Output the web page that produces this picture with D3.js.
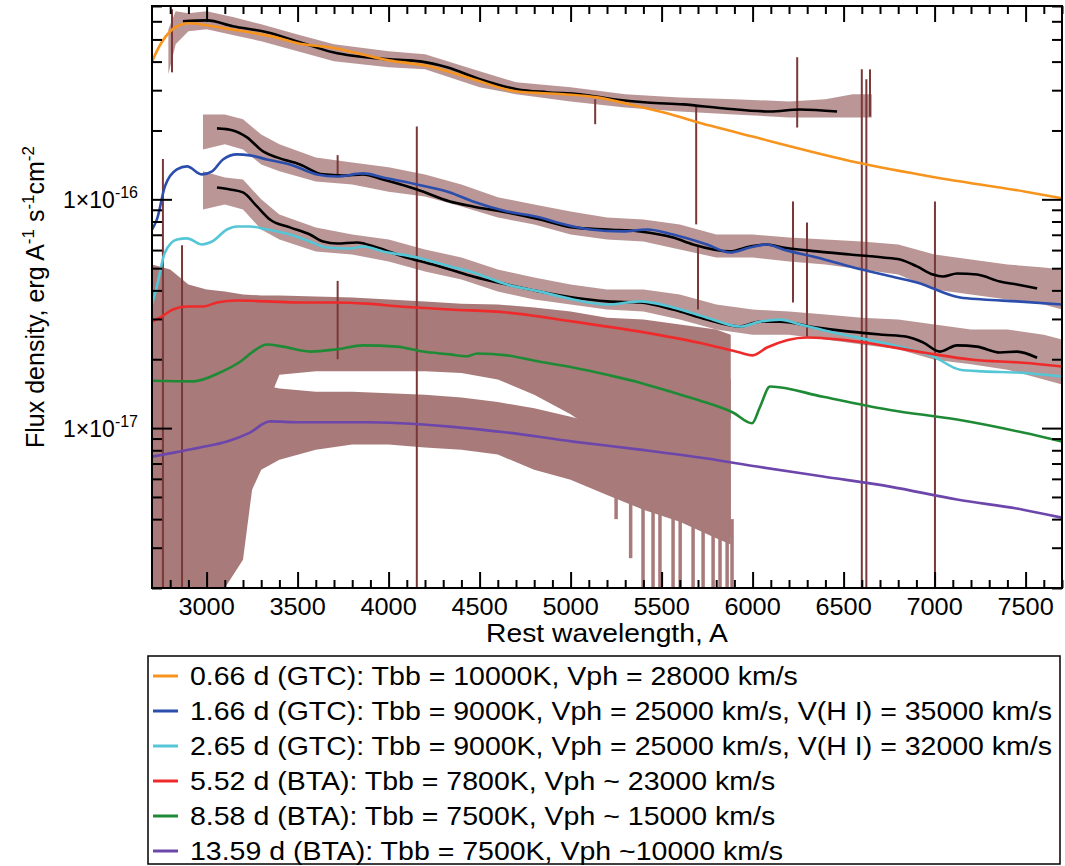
<!DOCTYPE html>
<html>
<head>
<meta charset="utf-8">
<script src="https://cdn.jsdelivr.net/npm/d3@7"></script>
<style>
  body { margin: 0; background: #fff; }
  svg { font-family: "Liberation Sans", Arial, sans-serif; }
</style>
</head>
<body>
<div id="chart"></div>
<script>
// flux values are in units of 1e-17 erg A^-1 s^-1 cm^-2, wavelength in A

// model spectra [wavelength, flux]
const model066 = [[2700,40.1],[2750,48.1],[2800,54.3],[2850,57.7],[2900,58.8],[3000,57.7],[3100,55.9],[3200,54.3],[3300,52.6],[3400,50.6],[3500,48.1],[3675,46.2],[4000,40.5],[4227,38.1],[4464,33.5],[4705,29.6],[4958,28.8],[5145,27.9],[5326,26.0],[5508,24.0],[5766,21.0],[6000,18.8],[6574,14.5],[7000,12.5],[7500,10.8],[7700,10.1]];
const model166 = [[2700,7.38],[2727,8.17],[2771,11.39],[2837,13.51],[2892,13.93],[2975,12.85],[3030,13.25],[3090,14.94],[3167,15.72],[3238,15.56],[3332,14.94],[3458,14.21],[3607,12.85],[3716,12.59],[3859,12.98],[3969,12.47],[4156,11.62],[4337,10.72],[4464,9.79],[4651,8.85],[4832,8.33],[4925,7.92],[5107,7.38],[5288,7.24],[5420,7.38],[5563,7.02],[5749,6.35],[5876,5.86],[5986,6.16],[6079,6.35],[6167,6.04],[6354,5.57],[6535,5.09],[6716,4.69],[6903,4.33],[7140,3.72],[7266,3.65],[7453,3.58],[7700,3.47]];
const model265 = [[2700,3.47],[2727,4.16],[2771,5.86],[2837,6.68],[2892,6.75],[2975,6.35],[3030,6.54],[3112,7.38],[3167,7.61],[3238,7.61],[3332,7.38],[3458,7.02],[3568,6.54],[3662,6.16],[3788,6.10],[3859,6.22],[3969,5.92],[4156,5.57],[4337,5.09],[4464,4.79],[4651,4.24],[4832,3.95],[5013,3.65],[5200,3.47],[5381,3.58],[5563,3.37],[5749,3.04],[5930,2.78],[6041,2.92],[6151,2.98],[6261,2.84],[6442,2.62],[6629,2.44],[6810,2.27],[6991,2.06],[7140,1.80],[7266,1.77],[7453,1.75],[7700,1.68]];
const model552 = [[2700,2.92],[2744,3.04],[2815,3.30],[2892,3.40],[2980,3.40],[3057,3.54],[3167,3.61],[3332,3.58],[3513,3.54],[3695,3.54],[3881,3.50],[4063,3.40],[4337,3.30],[4651,3.20],[5013,2.92],[5381,2.64],[5749,2.32],[5930,2.14],[6000,2.08],[6079,2.25],[6299,2.49],[6574,2.39],[6936,2.14],[7211,1.99],[7486,1.93],[7700,1.86]];
const model858 = [[2700,1.61],[2925,1.60],[3074,1.75],[3184,1.95],[3255,2.16],[3332,2.32],[3420,2.27],[3568,2.16],[3716,2.21],[3859,2.30],[4046,2.27],[4189,2.16],[4337,2.10],[4431,2.06],[4486,2.12],[4651,2.08],[4832,1.95],[5013,1.84],[5200,1.71],[5381,1.58],[5563,1.43],[5749,1.29],[5892,1.17],[5997,1.05],[6041,1.24],[6096,1.52],[6387,1.37],[6755,1.20],[7123,1.09],[7486,0.956],[7700,0.873]];
const model1359 = [[2700,0.750],[2964,0.822],[3112,0.873],[3238,0.956],[3348,1.07],[3513,1.06],[3695,1.06],[3881,1.06],[4063,1.05],[4337,1.015],[4651,0.956],[5013,0.873],[5381,0.805],[5749,0.736],[6024,0.679],[6387,0.614],[6755,0.555],[7123,0.487],[7486,0.440],[7700,0.406]];

// smoothed observed spectra (black)
const smooth066 = [[2870,60.0],[3002,60.6],[3145,57.1],[3332,53.7],[3513,48.6],[3695,43.9],[4008,40.9],[4173,40.1],[4321,37.8],[4502,33.5],[4705,30.3],[4870,29.4],[5052,28.8],[5233,27.4],[5420,26.5],[5618,26.0],[5837,25.0],[6096,24.2],[6260,24.7],[6464,24.2]];
const smooth166 = [[3057,20.42],[3145,20.01],[3222,18.66],[3310,16.20],[3387,15.25],[3513,14.21],[3640,12.85],[3749,12.72],[3859,12.85],[3969,12.22],[4156,11.05],[4337,9.79],[4464,9.31],[4651,8.76],[4832,8.17],[5013,7.54],[5200,7.38],[5381,7.24],[5563,6.81],[5673,6.35],[5876,5.92],[5986,6.22],[6079,6.35],[6167,6.16],[6354,5.92],[6535,5.74],[6716,5.57],[6810,5.46],[6903,5.09],[6991,4.69],[7046,4.60],[7123,4.74],[7233,4.69],[7359,4.37],[7453,4.24],[7563,4.08]];
const smooth265 = [[3057,11.27],[3129,11.05],[3200,10.72],[3277,9.31],[3348,8.17],[3458,7.54],[3568,7.02],[3640,6.54],[3716,6.41],[3826,6.48],[3936,6.16],[4079,5.63],[4244,5.19],[4337,4.94],[4464,4.60],[4651,4.24],[4832,3.95],[5013,3.72],[5200,3.58],[5381,3.54],[5563,3.30],[5749,2.98],[5930,2.78],[6041,2.92],[6151,2.92],[6354,2.75],[6535,2.64],[6716,2.56],[6848,2.51],[6936,2.37],[7030,2.16],[7123,2.30],[7233,2.27],[7359,2.14],[7453,2.16],[7563,2.03]];

// raw observed spectra as noise envelopes [wavelength, low, high]
const obs066 = [[2790,35.2,55.4],[2830,47.6,66.4],[2900,54.3,65.1],[3000,55.4,66.4],[3150,52.1,62.5],[3300,49.1,58.2],[3500,44.4,52.6],[3700,40.1,47.6],[4000,37.8,44.4],[4200,37.0,43.1],[4500,30.9,36.3],[4700,28.8,32.5],[5000,26.8,30.9],[5300,25.2,28.8],[5600,24.2,27.9],[5900,23.5,27.4],[6200,22.8,26.8],[6400,22.8,27.4],[6550,22.8,28.8],[6655,22.8,28.8]];
const obs166 = [[2980,16.5,23.5],[3100,17.4,23.5],[3200,16.5,22.4],[3300,14.2,19.2],[3400,13.25,17.4],[3600,11.97,15.25],[3800,11.6,14.5],[4000,10.8,13.8],[4200,10.3,12.85],[4400,9.31,11.6],[4600,8.33,10.2],[4800,7.77,9.5],[5000,7.02,8.85],[5200,6.68,8.33],[5400,6.54,8.17],[5600,6.04,7.77],[5800,5.57,7.02],[6000,5.57,7.02],[6200,5.35,6.81],[6400,5.19,6.68],[6600,4.94,6.54],[6800,4.69,6.35],[7000,4.04,5.74],[7200,3.84,5.46],[7400,3.65,5.19],[7600,3.47,5.04],[7700,3.30,4.94]];
const obs265 = [[2980,9.03,13.25],[3100,9.5,12.47],[3200,9.03,12.2],[3300,7.38,10.0],[3400,6.68,8.59],[3600,5.92,7.54],[3800,5.74,7.02],[4000,5.35,6.68],[4200,4.84,6.04],[4400,4.46,5.57],[4600,3.95,4.94],[4800,3.65,4.55],[5000,3.47,4.24],[5200,3.30,4.04],[5400,3.23,4.04],[5600,2.98,3.84],[5800,2.70,3.47],[6000,2.56,3.30],[6200,2.56,3.23],[6400,2.44,3.14],[6600,2.32,3.04],[6800,2.21,2.98],[7000,1.99,2.84],[7200,1.90,2.70],[7400,1.80,2.70],[7600,1.63,2.56],[7700,1.55,2.44]];
const obs552 = [[2700,0.2,5.19],[2800,0.2,4.94],[2900,0.2,4.24],[3000,0.2,4.04],[3100,0.595,3.95],[3200,1.99,3.84],[3300,2.98,3.80],[3400,3.07,3.80],[3600,3.10,3.76],[3800,3.10,3.72],[4000,3.07,3.65],[4200,3.00,3.58],[4400,2.95,3.50],[4600,2.85,3.47],[4800,2.70,3.37],[5000,2.50,3.23],[5200,2.28,3.04],[5400,1.99,2.98],[5600,1.63,2.84],[5800,1.33,2.70],[5880,1.09,2.56]];
const obs858 = [[3100,0.2,3.30],[3200,0.266,3.10],[3300,1.09,3.05],[3400,1.71,3.10],[3600,1.77,3.15],[3800,1.77,3.15],[4000,1.77,3.10],[4200,1.77,3.05],[4400,1.74,3.00],[4600,1.63,2.90],[4800,1.40,2.75],[5000,1.15,2.55],[5200,0.891,2.30],[5400,0.658,2.10],[5600,0.487,1.99],[5800,0.36,1.90],[5880,0.33,1.63]];
const obs1359 = [[2700,0.2,3.65],[3000,0.2,2.70],[3100,0.2,2.21],[3200,0.44,1.80],[3300,0.658,1.55],[3400,0.728,1.49],[3600,0.805,1.44],[3800,0.847,1.44],[4000,0.847,1.42],[4200,0.822,1.40],[4400,0.805,1.36],[4600,0.766,1.30],[4800,0.658,1.22],[5000,0.595,1.12],[5200,0.51,1.02],[5400,0.44,0.93],[5600,0.39,0.85],[5800,0.33,0.78],[5880,0.31,0.70]];

// deep absorption troughs of the BTA spectra [wavelength, high, low]
const troughs = [[5250,0.62,0.40],[5330,0.60,0.27],[5398,0.55,0.2],[5453,0.55,0.2],[5491,0.52,0.2],[5563,0.50,0.2],[5602,0.50,0.2],[5673,0.46,0.2],[5728,0.45,0.2],[5783,0.44,0.2],[5821,0.42,0.2],[5860,0.40,0.2],[5887,0.40,0.2]];

// single-pixel spikes and dips [wavelength, high, low]
const spikes = [[2760,15.0,0.2],[2810,67.7,35.9],[2865,6.3,0.2],[3720,15.6,12.7],[3720,4.4,2.0],[4155,20.8,0.2],[5135,27.4,21.3],[5690,25.4,7.77],[5700,6.2,3.3],[6222,9.79,3.54],[6245,41.8,20.6],[6299,7.92,2.51],[6600,37.0,0.2],[6625,33.5,0.2],[6645,37.0,23.0],[7002,9.79,0.2]];

const xMajor = [3000,3500,4000,4500,5000,5500,6000,6500,7000,7500];
const xMinor = d3.range(2800, 7701, 100).filter(v => v % 500 !== 0);
const yMajor = [1, 10];
const yMinor = [0.2,0.3,0.4,0.5,0.6,0.7,0.8,0.9,2,3,4,5,6,7,8,9,20,30,40,50,60,70];
const yLabels = [[1, "-17"], [10, "-16"]];

const legendLabels = [
  "0.66 d (GTC): Tbb = 10000K, Vph = 28000 km/s",
  "1.66 d (GTC): Tbb = 9000K, Vph = 25000 km/s, V(H I) = 35000 km/s",
  "2.65 d (GTC): Tbb = 9000K, Vph = 25000 km/s, V(H I) = 32000 km/s",
  "5.52 d (BTA): Tbb = 7800K, Vph ~ 23000 km/s",
  "8.58 d (BTA): Tbb = 7500K, Vph ~ 15000 km/s",
  "13.59 d (BTA): Tbb = 7500K, Vph ~10000 km/s"
];
const legendColors = ["#f7941d", "#2b4ead", "#55c6d6", "#ee2a2a", "#1f8a35", "#6c46ab"];

const svgWidth = 1065, svgHeight = 866;
const plot = { left: 152, right: 1062, top: 6, bottom: 588 };
const brown = "#8a4c4c";

const svg = d3.select("#chart")
  .append("svg")
  .attr("width", svgWidth)
  .attr("height", svgHeight);

// the source figure is slightly stretched sideways, so widen text a bit
function widen(sel, k) {
  sel.each(function () {
    const w = this.getComputedTextLength();
    d3.select(this).attr("textLength", w * k).attr("lengthAdjust", "spacingAndGlyphs");
  });
}

// scales
const x = d3.scaleLinear().domain([2700, 7700]).range([plot.left, plot.right]);
const y = d3.scaleLog().domain([0.2, 70]).range([plot.bottom, plot.top]);

svg.append("clipPath").attr("id", "clip")
  .append("rect")
  .attr("x", plot.left).attr("y", plot.top)
  .attr("width", plot.right - plot.left).attr("height", plot.bottom - plot.top);

const g = svg.append("g").attr("clip-path", "url(#clip)");

// noisy observed spectra
const band = d3.area()
  .x(d => x(d[0]))
  .y0(d => y(d[1]))
  .y1(d => y(d[2]));

const bta = g.append("g").attr("opacity", 0.74);
[obs552, obs858, obs1359].forEach(s => {
  bta.append("path").datum(s).attr("fill", brown).attr("d", band);
});
bta.selectAll(".trough")
  .data(troughs)
  .join("line")
  .attr("x1", d => x(d[0])).attr("x2", d => x(d[0]))
  .attr("y1", d => y(d[1])).attr("y2", d => y(d[2]))
  .attr("stroke", brown)
  .attr("stroke-width", 3.5);

const gtc = g.append("g").attr("opacity", 0.58);
[obs066, obs166, obs265].forEach(s => {
  gtc.append("path").datum(s).attr("fill", brown).attr("d", band);
});

g.selectAll(".spike")
  .data(spikes)
  .join("line")
  .attr("x1", d => x(d[0])).attr("x2", d => x(d[0]))
  .attr("y1", d => y(d[1])).attr("y2", d => y(d[2]))
  .attr("stroke", "#7a3838")
  .attr("stroke-width", 2);

const line = d3.line()
  .x(d => x(d[0]))
  .y(d => y(d[1]))
  .curve(d3.curveMonotoneX);

// smoothed spectra
[smooth066, smooth166, smooth265].forEach(s => {
  g.append("path").datum(s)
    .attr("fill", "none")
    .attr("stroke", "#000")
    .attr("stroke-width", 2.6)
    .attr("d", line);
});

// models
[model066, model166, model265, model552, model858, model1359].forEach((s, i) => {
  g.append("path").datum(s)
    .attr("fill", "none")
    .attr("stroke", legendColors[i])
    .attr("stroke-width", 2.6)
    .attr("d", line);
});

// axes, ticks pointing inward on all four sides
function ticks(axis, values, size, transform) {
  svg.append("g")
    .attr("transform", transform)
    .call(axis.tickValues(values).tickSize(-size).tickFormat(""))
    .call(a => a.select(".domain").remove())
    .selectAll("line").attr("stroke", "#000").attr("stroke-width", 2);
}
ticks(d3.axisBottom(x), xMajor, 16, `translate(0,${plot.bottom})`);
ticks(d3.axisBottom(x), xMinor, 8, `translate(0,${plot.bottom})`);
ticks(d3.axisTop(x), xMajor, 16, `translate(0,${plot.top})`);
ticks(d3.axisTop(x), xMinor, 8, `translate(0,${plot.top})`);
ticks(d3.axisLeft(y), yMajor, 20, `translate(${plot.left},0)`);
ticks(d3.axisLeft(y), yMinor, 10, `translate(${plot.left},0)`);
ticks(d3.axisRight(y), yMajor, 20, `translate(${plot.right},0)`);
ticks(d3.axisRight(y), yMinor, 10, `translate(${plot.right},0)`);

svg.append("rect")
  .attr("x", plot.left).attr("y", plot.top)
  .attr("width", plot.right - plot.left).attr("height", plot.bottom - plot.top)
  .attr("fill", "none")
  .attr("stroke", "#000")
  .attr("stroke-width", 2);

// tick labels
svg.selectAll(".xlab")
  .data(xMajor)
  .join("text")
  .attr("x", d => x(d))
  .attr("y", plot.bottom + 27)
  .attr("text-anchor", "middle")
  .style("font-size", "23px")
  .text(d => d)
  .call(widen, 1.1);

yLabels.forEach(([v, p]) => {
  const t = svg.append("text")
    .attr("x", 138)
    .attr("y", y(v) + 9)
    .attr("text-anchor", "end")
    .style("font-size", "23px");
  t.append("tspan").text("1\u00d710");
  t.append("tspan").attr("dy", -10).style("font-size", "16px").text(p);
});

svg.append("text")
  .attr("x", (plot.left + plot.right) / 2)
  .attr("y", 642)
  .attr("text-anchor", "middle")
  .style("font-size", "25px")
  .text("Rest wavelength, A")
  .call(widen, 1.13);

const ylab = svg.append("text")
  .attr("transform", `translate(44, ${(plot.top + plot.bottom) / 2}) rotate(-90)`)
  .attr("text-anchor", "middle")
  .style("font-size", "25px");
ylab.append("tspan").text("Flux density, erg A");
ylab.append("tspan").attr("dy", -10).style("font-size", "17px").text("-1");
ylab.append("tspan").attr("dy", 10).text(" s");
ylab.append("tspan").attr("dy", -10).style("font-size", "17px").text("-1");
ylab.append("tspan").attr("dy", 10).text("cm");
ylab.append("tspan").attr("dy", -10).style("font-size", "17px").text("-2");

// legend
svg.append("rect")
  .attr("x", 148).attr("y", 656)
  .attr("width", 912).attr("height", 208)
  .attr("fill", "none")
  .attr("stroke", "#000")
  .attr("stroke-width", 1.5);

const legend = svg.append("g");
legendLabels.forEach((label, i) => {
  const ly = 676 + i * 35;
  legend.append("line")
    .attr("x1", 153).attr("x2", 178)
    .attr("y1", ly).attr("y2", ly)
    .attr("stroke", legendColors[i])
    .attr("stroke-width", 3);
  legend.append("text")
    .attr("x", 190)
    .attr("y", ly + 9)
    .style("font-size", "25px")
    .text(label)
    .call(widen, 1.14);
});
</script>
</body>
</html>
